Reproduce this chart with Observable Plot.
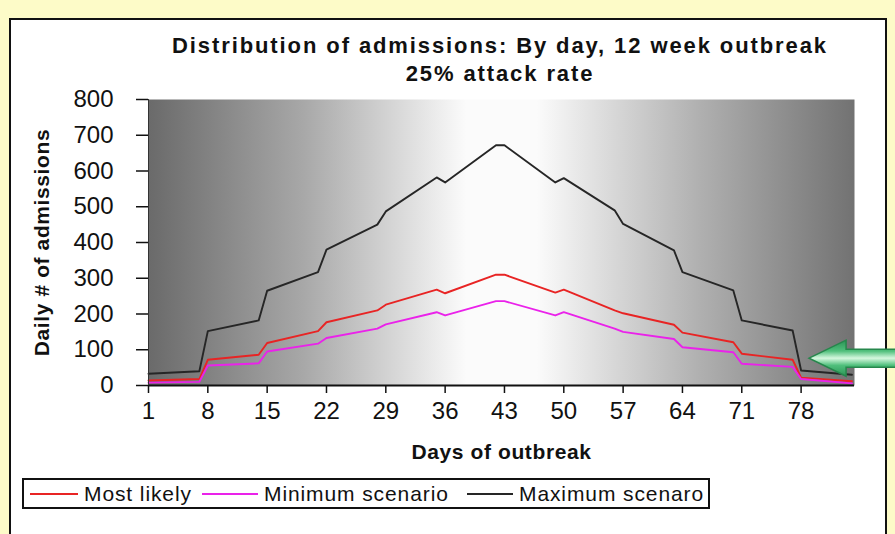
<!DOCTYPE html>
<html>
<head>
<meta charset="utf-8">
<script src="https://cdn.jsdelivr.net/npm/d3@7"></script>
<script src="https://cdn.jsdelivr.net/npm/@observablehq/plot@0.6"></script>
<style>
  html, body { margin: 0; padding: 0; }
  body { width: 895px; height: 534px; overflow: hidden; position: relative; background: #fdfbc8;
         font-family: "Liberation Sans", Arial, sans-serif; color: #111; }
  #box { position: absolute; left: 9px; top: 18px; width: 874px; height: 540px; border: 2px solid #111; background: #fff; }
  #title { position: absolute; left: 0; width: 1000px; top: 32px; text-align: center; font-weight: bold;
           font-size: 22px; letter-spacing: 1.9px; line-height: 28px; }
  #chart { position: absolute; left: 0; top: 90px; }
  #chart svg [aria-label="x-axis label"] text, #chart svg [aria-label="y-axis label"] text { font-weight: bold; font-size: 21px; letter-spacing: 0.6px; }
  #legend { position: absolute; left: 22px; top: 478px; width: 684px; height: 27px; border: 2px solid #111; background: #fff;
            font-size: 21px; letter-spacing: 0.9px; line-height: 27px; white-space: nowrap; }
  #legend .item { position: absolute; top: 0; }
  #legend .sw { display: inline-block; height: 2px; vertical-align: middle; margin-right: 6px; position: relative; top: -1px; }
</style>
</head>
<body>
<div id="box"></div>
<div id="title"></div>
<div id="chart"></div>
<div id="legend"></div>
<script>
// ---- data (breakpoint days of each weekly step) ----
const days       = [1, 7, 8, 14, 15, 21, 22, 28, 29, 35, 36, 42, 43, 49, 50, 56, 57, 63, 64, 70, 71, 77, 78, 84];
const mostLikely = [14, 18, 72, 86, 119, 152, 177, 210, 226, 268, 258, 310, 310, 260, 268, 210, 202, 170, 148, 121, 89, 72, 22, 12];
const minimum    = [8, 10, 56, 62, 95, 117, 133, 159, 171, 205, 196, 236, 236, 196, 205, 159, 150, 130, 107, 93, 61, 52, 18, 6];
const maximum    = [33, 40, 152, 182, 265, 317, 380, 450, 487, 582, 568, 672, 672, 568, 580, 490, 452, 378, 317, 266, 182, 154, 42, 30];
const seriesNames  = ["Most likely", "Minimum scenario", "Maximum scenaro"];
const seriesColors = ["#e82424", "#ea22ea", "#262626"];
const xTicks = [1, 8, 15, 22, 29, 36, 43, 50, 57, 64, 71, 78];
const yTicks = [0, 100, 200, 300, 400, 500, 600, 700, 800];
const titleLines = ["Distribution of admissions: By day, 12 week outbreak", "25% attack rate"];
const arrowDay = [79], arrowValue = [75];

document.getElementById("title").innerHTML = titleLines.join("<br>");

const seriesValues = [mostLikely, minimum, maximum];
const rows = [];
// draw order: maximum first, then most likely, then minimum on top
[2, 0, 1].forEach(s => days.forEach((d, i) => rows.push({day: d, value: seriesValues[s][i], series: seriesNames[s]})));

const chart = Plot.plot({
  width: 895,
  height: 380,
  marginLeft: 148,
  marginRight: 41,
  marginTop: 9,
  marginBottom: 85,
  style: {background: "transparent", fontFamily: "'Liberation Sans', Arial, sans-serif", fontSize: "24px", color: "#111", overflow: "visible"},
  x: {domain: [1, 84.3], ticks: xTicks, tickFormat: d => String(d), tickSize: 8, tickPadding: 8,
      label: "Days of outbreak", labelArrow: "none", labelAnchor: "center", labelOffset: 73},
  y: {domain: [0, 800], ticks: yTicks, tickSize: 12, tickPadding: 23,
      label: "Daily # of admissions", labelArrow: "none", labelAnchor: "center", labelOffset: 114},
  color: {domain: seriesNames, range: seriesColors},
  marks: [
    Plot.frame({fill: "url(#bgGrad)", stroke: null}),
    Plot.line(rows, {x: "day", y: "value", z: "series", stroke: "series", strokeWidth: 1.9}),
    Plot.ruleY([0], {stroke: "#111", strokeWidth: 2}),
    Plot.ruleX([1], {stroke: "#333", strokeWidth: 1})
  ]
});

const svg = d3.select(chart);
svg.insert("defs", ":first-child").html(`
  <linearGradient id="bgGrad" x1="0" x2="1" y1="0" y2="0">
    <stop offset="0" stop-color="#6a6a6a"/>
    <stop offset="0.22" stop-color="#a8a8a8"/>
    <stop offset="0.45" stop-color="#fbfbfb"/>
    <stop offset="0.55" stop-color="#fbfbfb"/>
    <stop offset="0.78" stop-color="#b0b0b0"/>
    <stop offset="1" stop-color="#727272"/>
  </linearGradient>
  <linearGradient id="arrowGrad" x1="0" x2="0" y1="0" y2="1">
    <stop offset="0" stop-color="#2b9456"/>
    <stop offset="0.3" stop-color="#4fbf7b"/>
    <stop offset="0.5" stop-color="#d6f8df"/>
    <stop offset="0.7" stop-color="#4fbf7b"/>
    <stop offset="1" stop-color="#2b9456"/>
  </linearGradient>`);
svg.selectAll("[aria-label='x-axis tick'] path, [aria-label='y-axis tick'] path").attr("stroke-width", 1.5);

// green pointer arrow, tip placed through the plot's scales
const sx = chart.scale("x"), sy = chart.scale("y");
const tx = sx.apply(arrowDay[0]), ty = sy.apply(arrowValue[0]);
const shape = [[0, 0], [37, -18], [37, -9], [90, -9], [90, 9], [37, 9], [37, 18]];
svg.append("polygon")
  .attr("points", shape.map(([dx, dy]) => `${tx + dx},${ty + dy}`).join(" "))
  .attr("fill", "url(#arrowGrad)").attr("stroke", "#26874c").attr("stroke-width", 1.5);

document.getElementById("chart").appendChild(chart);

// legend
const legendX = [[6, 48], [178, 56], [443, 46]];
const leg = document.getElementById("legend");
seriesNames.forEach((name, i) => {
  const it = document.createElement("span");
  it.className = "item";
  it.style.left = legendX[i][0] + "px";
  const sw = document.createElement("span");
  sw.className = "sw";
  sw.style.width = legendX[i][1] + "px";
  sw.style.background = seriesColors[i];
  it.appendChild(sw);
  it.appendChild(document.createTextNode(name));
  leg.appendChild(it);
});
</script>
</body>
</html>
